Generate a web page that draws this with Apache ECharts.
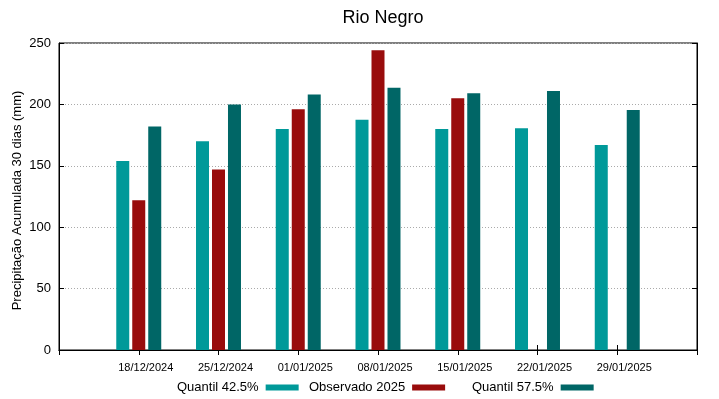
<!DOCTYPE html>
<html>
<head>
<meta charset="utf-8">
<script src="https://cdn.jsdelivr.net/npm/echarts@6/dist/echarts.min.js"></script>
<style>
  html, body { margin: 0; padding: 0; background: #fff; }
  #chart { width: 719px; height: 399px; }
</style>
</head>
<body>
<div id="chart"></div>
<script>
// dados (mm)
var datas = ['', '18/12/2024', '25/12/2024', '01/01/2025', '08/01/2025', '15/01/2025', '22/01/2025', '29/01/2025', ''];
var quantil425 = [null, 154, 170, 180, 187.5, 180, 180.5, 167, null];
var observado2025 = [null, 122, 147, 196, 244, 205, null, null, null];
var quantil575 = [null, 182, 200, 208, 213.5, 209, 211, 195.5, null];
var yTicks = [0, 50, 100, 150, 200, 250];
var nomes = ['Quantil 42.5%', 'Observado 2025', 'Quantil 57.5%'];

var chartDom = document.getElementById('chart');
var myChart = echarts.init(chartDom);
var font = 'Liberation Sans';

// uma legenda por serie, posicionadas como no original
var legendLeft = [177, 309, 472];
var legends = nomes.map(function (n, i) {
    return {
        top: 381, left: legendLeft[i],
        padding: 0,
        align: 'right',
        itemWidth: 33, itemHeight: 6,
        icon: 'rect',
        textStyle: { fontFamily: font, fontSize: 13, color: '#000', padding: [0, 2, 0, 0] },
        data: [n]
    };
});

var option = {
    animation: false,
    textStyle: { fontFamily: font },
    title: {
        text: 'Rio Negro',
        left: 378, top: 4, textAlign: 'center',
        textStyle: { fontFamily: font, fontSize: 18, fontWeight: 'normal', color: '#000' }
    },
    legend: legends,
    grid: {
        left: 59, right: 22, top: 43, bottom: 49,
        outerBoundsMode: 'none',
        containLabel: false,
        show: true, borderColor: '#000', borderWidth: 1
    },
    xAxis: [{
        type: 'category',
        data: datas,
        boundaryGap: false,
        axisLine: { lineStyle: { color: '#000' } },
        axisTick: { inside: true, length: 5, lineStyle: { color: '#000' } },
        axisLabel: { fontSize: 11, color: '#000', margin: 12, padding: [0, 0, 0, 14], interval: 0 },
        splitLine: { show: false }
    }, {
        type: 'category',
        data: datas,
        position: 'top',
        boundaryGap: false,
        axisLine: { lineStyle: { color: '#000' } },
        axisTick: { inside: true, length: 5, lineStyle: { color: '#000' } },
        axisLabel: { show: false }
    }],
    yAxis: [{
        type: 'value',
        min: 0, max: 250, interval: 50,
        name: 'Precipitação Acumulada 30 dias (mm)',
        nameLocation: 'middle', nameGap: 35,
        nameMoveOverlap: false,
        nameTextStyle: { fontFamily: font, fontSize: 13, color: '#000', padding: [0, 8, 0, 0] },
        axisLine: { show: true, lineStyle: { color: '#000' } },
        axisTick: { show: true, inside: true, length: 5, lineStyle: { color: '#000' } },
        axisLabel: {
            fontSize: 13, color: '#000', margin: 8,
            formatter: function (v) { return yTicks.indexOf(v) >= 0 ? String(v) : ''; }
        },
        splitLine: { lineStyle: { color: '#aaa', type: [1, 2], width: 1 } }
    }, {
        type: 'value',
        min: 0, max: 250, interval: 50,
        position: 'right',
        axisLine: { show: true, lineStyle: { color: '#000' } },
        axisTick: { show: true, inside: true, length: 5, lineStyle: { color: '#000' } },
        axisLabel: { show: false },
        splitLine: { show: false }
    }],
    series: [{
        name: nomes[0], type: 'bar', data: quantil425,
        barWidth: 13, barGap: '23%',
        itemStyle: { color: '#009999' }
    }, {
        name: nomes[1], type: 'bar', data: observado2025,
        barWidth: 13, barGap: '23%',
        itemStyle: { color: '#990c0c' }
    }, {
        name: nomes[2], type: 'bar', data: quantil575,
        barWidth: 13, barGap: '23%',
        itemStyle: { color: '#006666' }
    }]
};

option && myChart.setOption(option);
</script>
</body>
</html>
